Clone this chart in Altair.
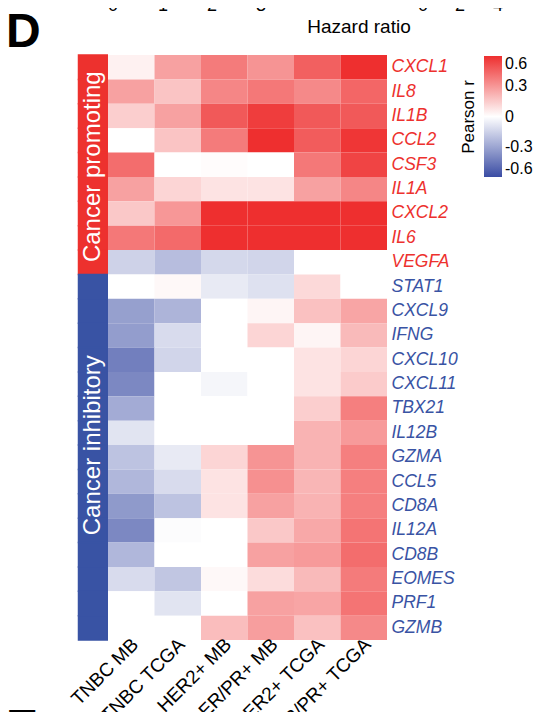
import altair as alt
import pandas as pd

columns = ["TNBC MB", "TNBC TCGA", "HER2+ MB", "ER/PR+ MB", "HER2+ TCGA", "ER/PR+ TCGA"]
promoting = ["CXCL1", "IL8", "IL1B", "CCL2", "CSF3", "IL1A", "CXCL2", "IL6", "VEGFA"]
inhibitory = ["STAT1", "CXCL9", "IFNG", "CXCL10", "CXCL11", "TBX21", "IL12B", "GZMA",
              "CCL5", "CD8A", "IL12A", "CD8B", "EOMES", "PRF1", "GZMB"]

r_values = {
    "CXCL1":  [0.04, 0.27, 0.38, 0.31, 0.46, 0.60],
    "IL8":    [0.27, 0.17, 0.35, 0.39, 0.34, 0.44],
    "IL1B":   [0.14, 0.27, 0.48, 0.56, 0.48, 0.48],
    "CCL2":   [0.00, 0.17, 0.38, 0.60, 0.47, 0.58],
    "CSF3":   [0.42, 0.00, 0.01, 0.00, 0.39, 0.54],
    "IL1A":   [0.27, 0.12, 0.08, 0.08, 0.27, 0.35],
    "CXCL2":  [0.16, 0.30, 0.70, 0.70, 0.70, 0.70],
    "IL6":    [0.39, 0.43, 0.70, 0.70, 0.70, 0.70],
    "VEGFA":  [-0.15, -0.22, -0.13, -0.14, 0.00, 0.00],
    "STAT1":  [0.00, 0.02, -0.07, -0.10, 0.11, 0.00],
    "CXCL9":  [-0.32, -0.25, 0.00, 0.03, 0.18, 0.26],
    "IFNG":   [-0.33, -0.12, 0.00, 0.12, 0.03, 0.20],
    "CXCL10": [-0.43, -0.14, 0.00, 0.00, 0.08, 0.12],
    "CXCL11": [-0.40, 0.00, -0.03, 0.00, 0.08, 0.15],
    "TBX21":  [-0.28, 0.00, 0.00, 0.00, 0.14, 0.37],
    "IL12B":  [-0.09, 0.00, 0.00, 0.00, 0.22, 0.29],
    "GZMA":   [-0.20, -0.07, 0.12, 0.31, 0.22, 0.37],
    "CCL5":   [-0.24, -0.12, 0.08, 0.32, 0.21, 0.37],
    "CD8A":   [-0.34, -0.20, 0.08, 0.27, 0.22, 0.37],
    "IL12A":  [-0.40, -0.01, 0.00, 0.16, 0.25, 0.40],
    "CD8B":   [-0.24, 0.00, 0.00, 0.27, 0.29, 0.42],
    "EOMES":  [-0.12, -0.19, 0.02, 0.10, 0.20, 0.38],
    "PRF1":   [0.00, -0.09, 0.00, 0.27, 0.26, 0.40],
    "GZMB":   [0.00, 0.00, 0.19, 0.28, 0.18, 0.34],
}

genes = promoting + inhibitory
legend_ticks = [-0.6, -0.3, 0, 0.3, 0.6]

RED = "#ED312E"
BLUE = "#3953A4"
FONT = "Liberation Sans"

rows = []
for g in genes:
    for c, v in zip(columns, r_values[g]):
        rows.append({"gene": g, "dataset": c, "r": v})
df = pd.DataFrame(rows)

group_df = pd.DataFrame({"gene": genes,
                         "group": ["Cancer promoting"] * len(promoting) + ["Cancer inhibitory"] * len(inhibitory)})

W, H = 279, 585

y_enc = alt.Y("gene:N", sort=genes, scale=alt.Scale(paddingInner=0, paddingOuter=0),
              axis=alt.Axis(orient="right", title=None, ticks=False, domain=False,
                            labelFontSize=17.5, labelFont=FONT, labelFontStyle="italic",
                            labelPadding=4,
                            labelColor={"expr": "indexof(" + str(promoting) + ", datum.value) >= 0 ? '" + RED + "' : '" + BLUE + "'"}))

color_scale = alt.Scale(domain=[-0.6, 0, 0.6], range=["#3A4CA4", "#FFFFFF", "#EE2F2F"],
                        interpolate="rgb", clamp=True)

heat = alt.Chart(df).mark_rect(strokeWidth=0).encode(
    x=alt.X("dataset:N", sort=columns, scale=alt.Scale(paddingInner=0, paddingOuter=0),
            axis=alt.Axis(title=None, ticks=False, domain=False, labelAngle=-45,
                          labelAlign="right", labelBaseline="middle",
                          labelFontSize=19, labelFont=FONT, labelColor="black",
                          labelPadding=1, labelOffset=4)),
    y=y_enc,
    color=alt.Color("r:Q", scale=color_scale,
                    legend=alt.Legend(title="Pearson r", orient="none", legendX=352, legendY=1,
                                      titleOrient="left", titleAnchor="middle",
                                      titleFontSize=17, titleFont=FONT, titleFontWeight="normal",
                                      titleColor="black", titlePadding=5,
                                      labelFontSize=16, labelFont=FONT, labelColor="black",
                                      gradientLength=121, gradientThickness=18,
                                      gradientStrokeWidth=0, values=legend_ticks,
                                      labelExpr="'' + datum.value", labelOffset=3,
                                      labelLimit=60)),
)

group_scale = alt.Scale(domain=["Cancer promoting", "Cancer inhibitory"], range=[RED, BLUE])
bar = alt.Chart(group_df).mark_rect(strokeWidth=1.5).encode(
    x=alt.value(-29.5), x2=alt.value(-0.75),
    y=alt.Y("gene:N", sort=genes),
    color=alt.Color("group:N", scale=group_scale, legend=None),
    stroke=alt.Stroke("group:N", scale=group_scale, legend=None),
)

def group_text(name, center_gene, dy):
    return alt.Chart(pd.DataFrame({"gene": [center_gene], "group": [name]})).mark_text(
        angle=270, color="white", fontSize=24, font=FONT, align="center", baseline="middle", dx=dy
    ).encode(
        x=alt.value(-15),
        y=alt.Y("gene:N", sort=genes),
        text="group:N",
    )

bar_text1 = group_text("Cancer promoting", "CSF3", -2)
bar_text2 = group_text("Cancer inhibitory", "GZMA", 12)

def label(texts, xs, y, size=18, weight="normal", align="center"):
    layers = []
    for t, xx in zip(texts, xs):
        layers.append(alt.Chart(pd.DataFrame({"t": [t]})).mark_text(
            fontSize=size, font=FONT, fontWeight=weight, color="black",
            align=align, baseline="alphabetic").encode(
            x=alt.value(xx), y=alt.value(y), text="t:N"))
    return layers

ann = []
ann += label(["0", "1", "2", "3"], [5, 55, 104, 153], -44)
ann += label(["0", "2", "4"], [315, 352, 390], -44)
ann += label(["Hazard ratio"], [251], -22, size=19)
ann += label(["D"], [-102], -8, size=48, weight="bold", align="left")
ann += label(["E"], [-102], 688, size=48, weight="bold", align="left")

chart = alt.layer(heat, bar, bar_text1, bar_text2, *ann).resolve_scale(
    color="independent").properties(
    width=W, height=H,
    autosize=alt.AutoSizeParams(type="none"),
    padding={"left": 100, "top": 47, "right": 147, "bottom": 72},
).configure_view(stroke=None)

chart.save("out.html", embed_options={"renderer": "svg", "actions": False})
